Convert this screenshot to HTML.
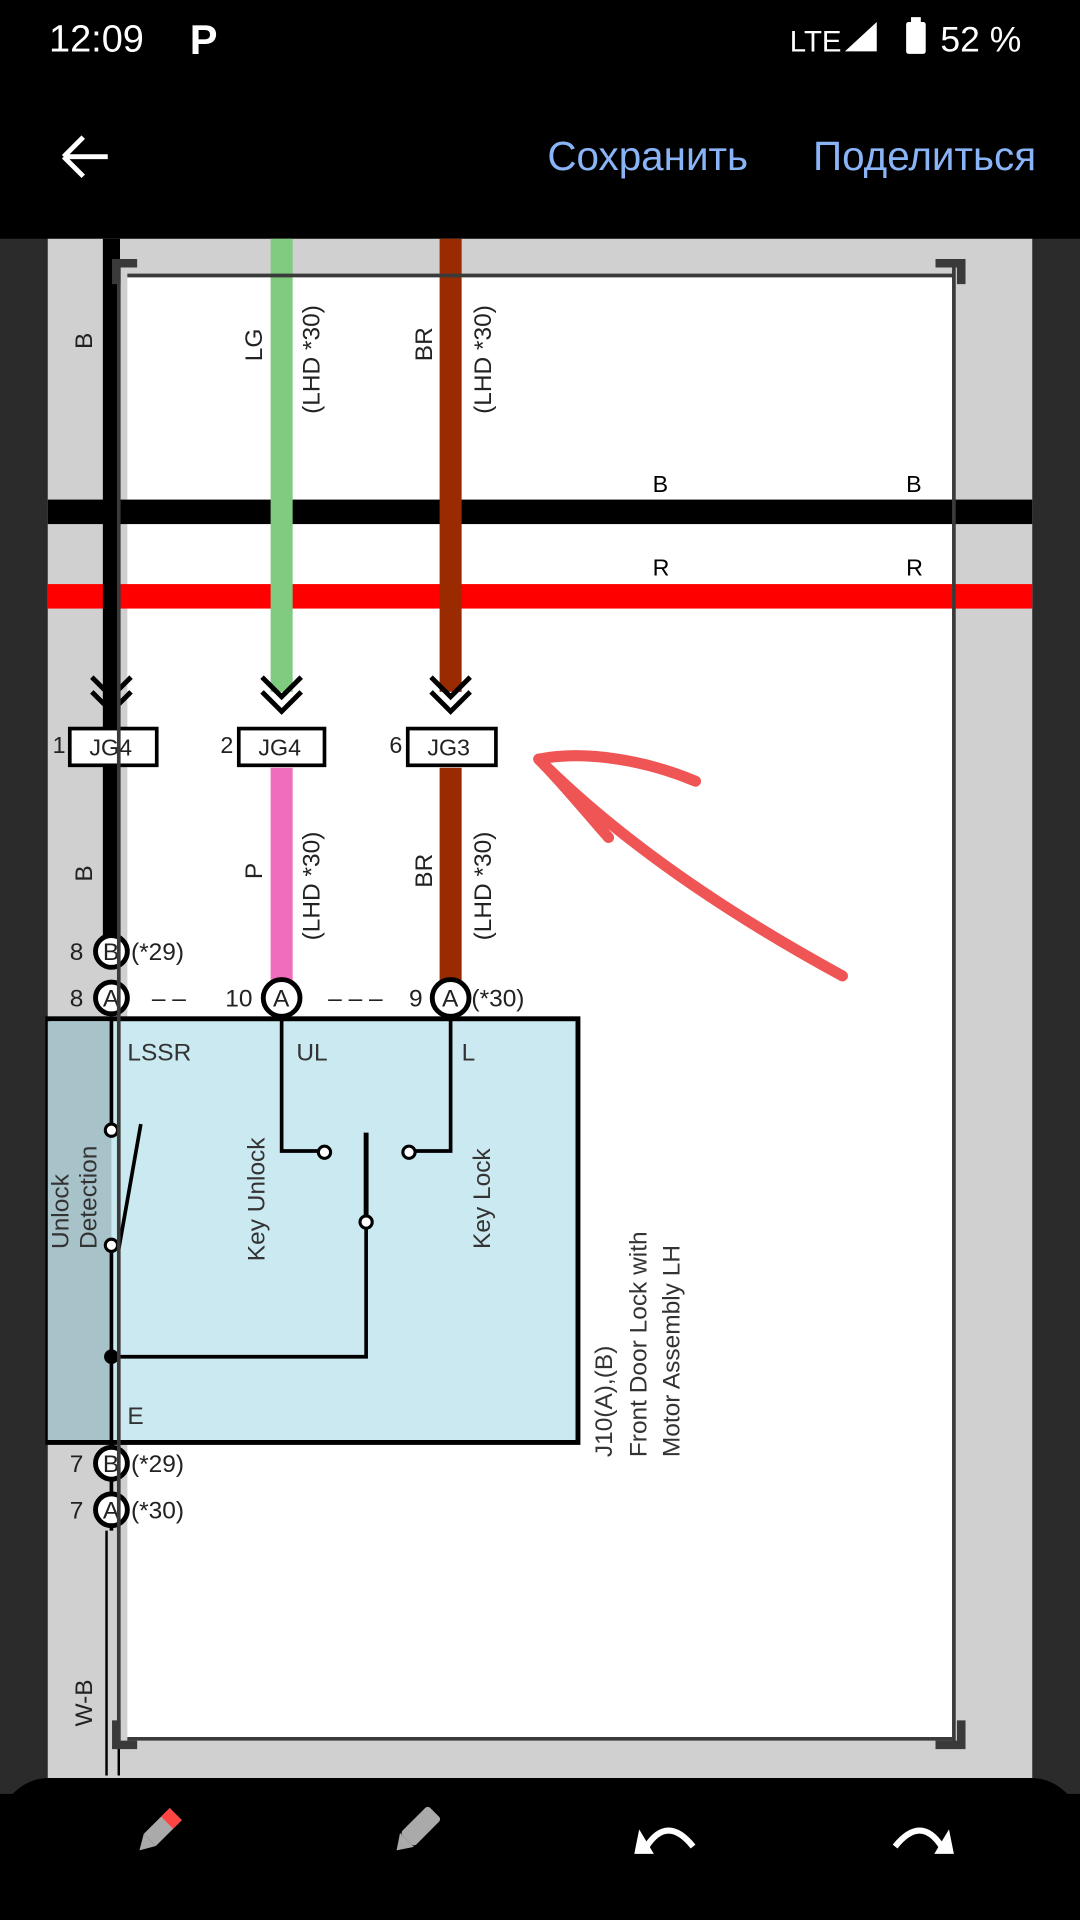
<!DOCTYPE html>
<html><head><meta charset="utf-8"><style>
html,body{margin:0;padding:0;background:#000;}
svg{display:block;}
text{font-family:"Liberation Sans","DejaVu Sans",sans-serif;}
</style></head><body>
<svg width="1080" height="1920" viewBox="0 0 882 1568" xmlns="http://www.w3.org/2000/svg">
<rect width="882" height="1568" fill="#000"/>
<!-- status bar -->
<text x="40" y="42" font-size="31" fill="#fff">12:09</text>
<text x="155" y="44" font-size="34" fill="#fff" font-weight="bold">P</text>
<text x="645" y="42" font-size="24" fill="#fff">LTE</text>
<polygon points="690,42 716,42 716,18" fill="#fff"/>
<rect x="740" y="18" width="16" height="26" rx="2" fill="#fff"/>
<rect x="744" y="14" width="8" height="5" fill="#fff"/>
<text x="768" y="42" font-size="29" fill="#fff">52 %</text>
<!-- toolbar -->
<path d="M52 128 H88 M52 128 L68 112 M52 128 L68 144" stroke="#fff" stroke-width="4" fill="none"/>
<text x="447" y="139" font-size="33" fill="#8ab4f8">Сохранить</text>
<text x="664" y="139" font-size="33" fill="#8ab4f8">Поделиться</text>
<!-- image area -->
<rect x="0" y="195" width="882" height="1270" fill="#2b2b2b"/>
<rect x="39" y="195" width="804" height="1270" fill="#d0d0d0"/>
<rect x="104" y="225" width="674" height="1195" fill="#fff"/>
<!-- horizontal wires -->
<rect x="39" y="408" width="804" height="20" fill="#000"/>
<rect x="39" y="477" width="804" height="20" fill="#f00"/>
<text x="533" y="402" font-size="19">B</text><text x="740" y="402" font-size="19">B</text>
<text x="533" y="470" font-size="19">R</text><text x="740" y="470" font-size="19">R</text>
<!-- vertical wires -->
<rect x="84" y="195" width="14" height="400" fill="#000"/>
<rect x="221" y="195" width="18" height="370" fill="#7fcb7f"/>
<rect x="359" y="195" width="18" height="370" fill="#9a2a00"/>
<rect x="84" y="625" width="14" height="150" fill="#000"/>
<rect x="221" y="627" width="18" height="175" fill="#f06cbc"/>
<rect x="359" y="627" width="18" height="175" fill="#9a2a00"/>
<!-- chevrons -->
<g stroke="#000" stroke-width="4" fill="none">
<path d="M75 553 L91 569 L107 553 M75 565 L91 581 L107 565"/>
<path d="M214 553 L230 569 L246 553 M214 565 L230 581 L246 565"/>
<path d="M352 553 L368 569 L384 553 M352 565 L368 581 L384 565"/>
</g>
<!-- JG boxes -->
<g stroke="#000" stroke-width="3" fill="#fff">
<rect x="57" y="595" width="71" height="30"/>
<rect x="195" y="595" width="70" height="30"/>
<rect x="333" y="595" width="72" height="30"/>
</g>
<g font-size="19" fill="#222">
<text x="73" y="617">JG4</text><text x="211" y="617">JG4</text><text x="349" y="617">JG3</text>
<text x="43" y="615">1</text><text x="180" y="615">2</text><text x="318" y="615">6</text>
</g>
<!-- rotated labels -->
<g font-size="20" fill="#222">
<text transform="translate(75,285) rotate(-90)">B</text>
<text transform="translate(214,295) rotate(-90)">LG</text>
<text transform="translate(261,338) rotate(-90)">(LHD *30)</text>
<text transform="translate(353,295) rotate(-90)">BR</text>
<text transform="translate(401,338) rotate(-90)">(LHD *30)</text>
<text transform="translate(75,720) rotate(-90)">B</text>
<text transform="translate(214,718) rotate(-90)">P</text>
<text transform="translate(261,768) rotate(-90)">(LHD *30)</text>
<text transform="translate(353,725) rotate(-90)">BR</text>
<text transform="translate(401,768) rotate(-90)">(LHD *30)</text>
<text transform="translate(75,1410) rotate(-90)">W-B</text>
</g>
<!-- component box -->
<rect x="39" y="832" width="433" height="346" fill="#cbe9f1" stroke="#000" stroke-width="4"/>
<rect x="39" y="834" width="52" height="342" fill="#a7c2c9"/>
<g font-size="20" fill="#333">
<text x="104" y="866">LSSR</text><text x="242" y="866">UL</text><text x="377" y="866">L</text>
<text x="104" y="1163">E</text>
<text transform="translate(56,1020) rotate(-90)">Unlock</text>
<text transform="translate(79,1020) rotate(-90)">Detection</text>
<text transform="translate(216,1030) rotate(-90)">Key Unlock</text>
<text transform="translate(400,1020) rotate(-90)">Key Lock</text>
<text transform="translate(500,1190) rotate(-90)">J10(A),(B)</text>
<text transform="translate(528,1190) rotate(-90)">Front Door Lock with</text>
<text transform="translate(555,1190) rotate(-90)">Motor Assembly LH</text>
</g>
<g stroke="#000" stroke-width="3" fill="none">
<path d="M91 830 V918 M91 1020 V1250"/>
<path d="M97 1020 L115 918"/>
<path d="M230 830 V940 H260 M368 830 V940 H338"/>
<path d="M299 925 V995" stroke-width="4"/>
<path d="M299 1003 V1108 H91"/>
<path d="M87 1250 V1450 M97 1250 V1450" stroke-width="2"/>
</g>
<g fill="#fff" stroke="#000" stroke-width="2.5">
<circle cx="91" cy="923" r="5"/><circle cx="91" cy="1017" r="5"/>
<circle cx="265" cy="941" r="5"/><circle cx="334" cy="941" r="5"/>
<circle cx="299" cy="998" r="5"/>
</g>
<circle cx="91" cy="1108" r="6" fill="#000"/>
<!-- connector circles -->
<g fill="#fff" stroke="#000" stroke-width="4">
<circle cx="91" cy="777" r="13"/><circle cx="91" cy="815" r="13"/>
<circle cx="230" cy="815" r="15"/><circle cx="368" cy="815" r="15"/>
<circle cx="91" cy="1195" r="13"/><circle cx="91" cy="1233" r="13"/>
</g>
<g font-size="20" fill="#222">
<text x="84" y="784">B</text><text x="84" y="822">A</text>
<text x="223" y="822">A</text><text x="361" y="822">A</text>
<text x="84" y="1202">B</text><text x="84" y="1240">A</text>
<text x="57" y="784">8</text><text x="57" y="822">8</text>
<text x="184" y="822">10</text><text x="334" y="822">9</text>
<text x="57" y="1202">7</text><text x="57" y="1240">7</text>
<text x="107" y="784">(*29)</text><text x="385" y="822">(*30)</text>
<text x="107" y="1202">(*29)</text><text x="107" y="1240">(*30)</text>
<text x="124" y="822">– –</text><text x="268" y="822">– – –</text>
</g>
<!-- crop frame -->
<g stroke="#3a3a3a" fill="none">
<path d="M97 215 V1425 M779 215 V1425 M104 225 H778 M104 1420 H778" stroke-width="3"/>
<path d="M95 232 V215 H112 M764 215 H785 V232 M95 1405 V1425 H112 M764 1425 H785 V1405" stroke-width="7"/>
</g>
<!-- red annotation arrow -->
<g stroke="#f05555" stroke-width="9" fill="none" stroke-linecap="round" stroke-linejoin="round">
<path d="M440 620 C520 700 620 760 688 797"/>
<path d="M440 620 C480 612 530 622 568 638"/>
<path d="M440 620 C460 640 480 665 497 684"/>
</g>
<!-- bottom bar -->
<rect x="0" y="1452" width="882" height="116" rx="40" fill="#000"/>
<rect x="0" y="1500" width="882" height="68" fill="#000"/>
<g transform="translate(128,1497) rotate(45)">
<rect x="-7" y="-22" width="14" height="30" fill="#aaa"/><rect x="-7" y="-22" width="14" height="10" fill="#f44"/>
<polygon points="-7,8 7,8 0,20" fill="#aaa"/></g>
<g transform="translate(338,1497) rotate(45)">
<rect x="-8" y="-24" width="16" height="32" rx="3" fill="#aaa"/><polygon points="-8,8 8,8 0,20" fill="#aaa"/></g>
<path d="M528 1508 Q545 1482 566 1508" stroke="#fff" stroke-width="5" fill="none"/>
<polygon points="522,1494 534,1514 518,1514" fill="#fff"/>
<path d="M731 1508 Q752 1482 769 1508" stroke="#fff" stroke-width="5" fill="none"/>
<polygon points="775,1494 763,1514 779,1514" fill="#fff"/>
</svg>
</body></html>
